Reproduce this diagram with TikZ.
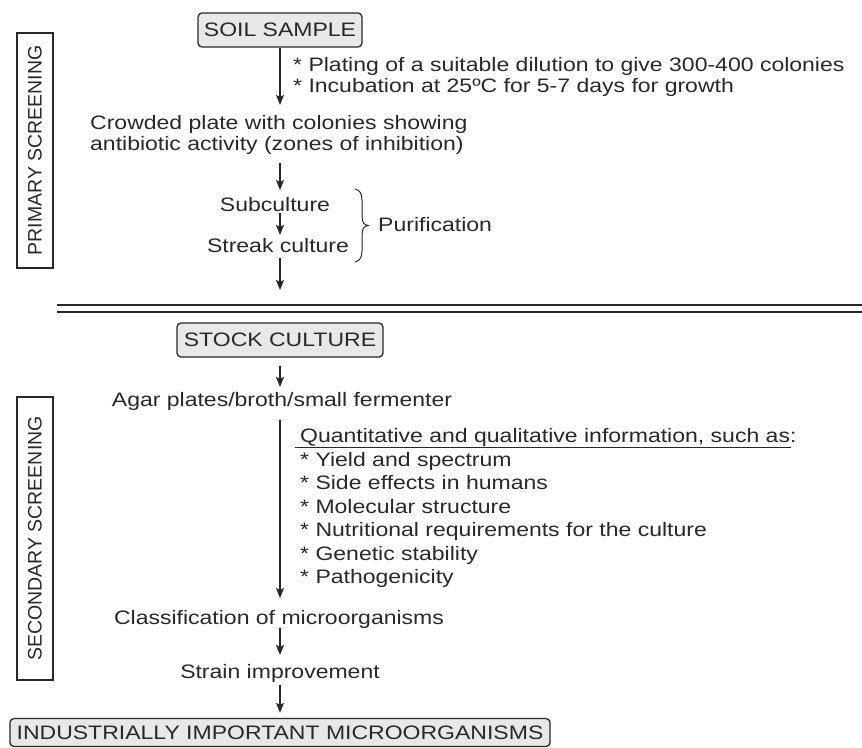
\documentclass[tikz,border=0pt]{standalone}
\usepackage{fontspec}
\setmainfont{Liberation Sans}[FakeStretch=1.18]
\newfontfamily\rotfont{Liberation Sans}
\usetikzlibrary{arrows.meta}
\definecolor{ink}{RGB}{40,40,40}
\definecolor{boxgray}{RGB}{232,232,232}
\begin{document}
\begin{tikzpicture}[x=1pt,y=-1pt,
  txt/.style={inner sep=0pt, text=ink, font=\fontsize{19.5}{21}\selectfont},
  flow/.style={draw=ink, line width=1.4pt, -{Stealth[length=10pt,width=8pt,inset=2pt]}},
  stepbox/.style={draw=ink, line width=1.3pt, rounded corners=4pt, fill=boxgray,
    inner sep=0pt, text=ink, font=\fontsize{19.5}{21}\selectfont},
  sidebox/.style={draw=ink, line width=1.3pt, inner sep=0pt, rotate=90, text=ink,
    font=\rotfont\fontsize{19.5}{21}\selectfont, minimum height=36pt}]
\useasboundingbox (0,0) rectangle (862,747);

% side labels
\node[sidebox, minimum width=235pt] (prim) at (35,150.5) {PRIMARY SCREENING};
\node[sidebox, minimum width=283pt] (sec) at (35,538.5) {SECONDARY SCREENING};

% primary screening
\node[stepbox, minimum width=164pt, minimum height=34pt] (soil) at (280,30) {SOIL SAMPLE};
\node[txt, anchor=base west] (n1) at (293,71) {* Plating of a suitable dilution to give 300-400 colonies};
\node[txt, anchor=base west] (n2) at (293,92) {* Incubation at 25ºC for 5-7 days for growth};
\node[txt, anchor=base west] (crowdA) at (90,129) {Crowded plate with colonies showing};
\node[txt, anchor=base west] (crowdB) at (90,150) {antibiotic activity (zones of inhibition)};
\node[txt, anchor=base] (sub) at (275,211) {Subculture};
\node[txt, anchor=base] (streak) at (278,252) {Streak culture};
\node[txt, anchor=base west] (purif) at (378,231) {Purification};

\coordinate (e1) at (280,105);
\coordinate (s2) at (280,163);
\coordinate (e2) at (280,190);
\coordinate (s3) at (280,213);
\coordinate (e3) at (280,235);
\coordinate (s4) at (280,258);
\coordinate (e4) at (280,290);
\draw[flow] (soil.south) -- (e1);
\draw[flow] (s2) -- (e2);
\draw[flow] (s3) -- (e3);
\draw[flow] (s4) -- (e4);

% brace
\coordinate (bt) at (355,189);
\coordinate (bb) at (355,262);
\coordinate (btip) at (368,225.5);
\draw[ink, line width=1pt] (bt) .. controls (360,190) and (362,194) .. (362,200)
  -- (362,216) .. controls (362,222) and (364,225) .. (btip)
  .. controls (364,226) and (362,229) .. (362,235)
  -- (362,251) .. controls (362,257) and (360,261) .. (bb);

% divider
\draw[ink, line width=1.6pt] (57,305) -- (862,305);
\draw[ink, line width=1.6pt] (57,312) -- (862,312);

% secondary screening
\node[stepbox, minimum width=206pt, minimum height=34pt] (stock) at (280,340) {STOCK CULTURE};
\node[txt, anchor=base] (agar) at (282,406) {Agar plates/broth/small fermenter};
\node[txt, anchor=base west] (quant) at (300,442) {Quantitative and qualitative information, such as:};
\draw[ink, line width=1pt] ([xshift=-5pt,yshift=-5pt]quant.base west) -- ([xshift=-6pt,yshift=-5pt]quant.base east);
\node[txt, anchor=base west] (i1) at (300,466) {* Yield and spectrum};
\node[txt, anchor=base west] (i2) at (300,489.5) {* Side effects in humans};
\node[txt, anchor=base west] (i3) at (300,513) {* Molecular structure};
\node[txt, anchor=base west] (i4) at (300,536.5) {* Nutritional requirements for the culture};
\node[txt, anchor=base west] (i5) at (300,560) {* Genetic stability};
\node[txt, anchor=base west] (i6) at (300,583.5) {* Pathogenicity};
\node[txt, anchor=base] (classif) at (279,624) {Classification of microorganisms};
\node[txt, anchor=base] (strain) at (280,678) {Strain improvement};
\node[stepbox, minimum width=540pt, minimum height=28pt] (ind) at (280,732.5) {INDUSTRIALLY IMPORTANT MICROORGANISMS};

\coordinate (e5) at (280,387);
\coordinate (s6) at (280,420);
\coordinate (e6) at (280,598);
\coordinate (s7) at (280,628);
\coordinate (e7) at (280,655);
\coordinate (s8) at (280,685);
\draw[flow, shorten <=8pt] (stock.south) -- (e5);
\draw[flow] (s6) -- (e6);
\draw[flow] (s7) -- (e7);
\draw[flow, shorten >=5pt] (s8) -- (ind.north);
\end{tikzpicture}
\end{document}
